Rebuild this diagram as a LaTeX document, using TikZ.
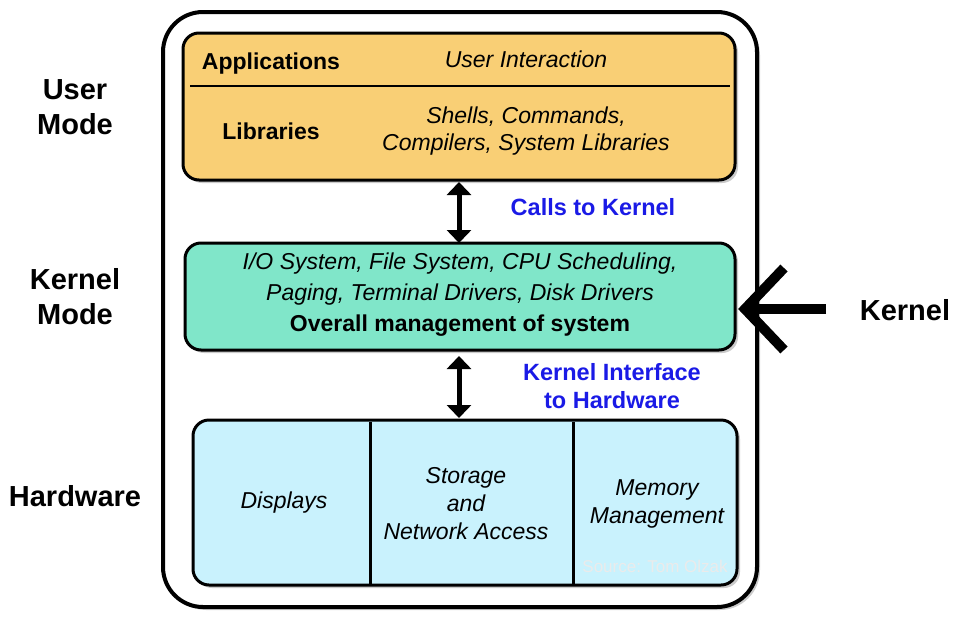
\documentclass[tikz,border=0pt]{standalone}
\usepackage{fontspec}
\setmainfont{Liberation Sans}
\usetikzlibrary{shadows,arrows.meta}
\definecolor{org}{HTML}{F9CF75}
\definecolor{grn}{HTML}{80E6C9}
\definecolor{lbl}{HTML}{C9F2FD}
\definecolor{kb}{HTML}{1A1AE6}
\begin{document}
\begin{tikzpicture}[x=1pt,y=-1pt,
  box/.style={draw=black,line width=3pt,rounded corners=16pt,drop shadow={shadow xshift=3pt,shadow yshift=-3pt,fill=black!40}},
  it/.style={font=\fontsize{23}{27}\selectfont\itshape,align=center},
  bd/.style={font=\fontsize{23}{27}\selectfont\bfseries,align=center},
  side/.style={font=\fontsize{29}{35}\selectfont\bfseries,align=center},
  blu/.style={font=\fontsize{23.5}{28}\selectfont\bfseries,text=kb,align=center},
  dbl/.style={line width=5pt,{Triangle[length=13pt,width=24pt]}-{Triangle[length=13pt,width=24pt]}}]
\useasboundingbox (0,0) rectangle (974,616);
\draw[line width=4pt,rounded corners=40pt,fill=white,drop shadow={shadow xshift=3pt,shadow yshift=-3pt,fill=black!40}] (163,12) rectangle (757,607);
\node[box,fill=org,minimum width=552pt,minimum height=147pt] (apps) at (459,106.5) {};
\draw[line width=1.2pt] (190,86) -- (730,86);
\node[bd] (a1) at (271,64) {Applications};
\node[it] (a2) at (526,59) {User Interaction};
\node[bd] (a3) at (271,131) {Libraries};
\node[it] (a4) at (526,131) {Shells, Commands,\\Compilers, System Libraries};
\node[box,fill=grn,minimum width=550pt,minimum height=107pt] (kern) at (460,296.5) {};
\node[align=center,font=\fontsize{23}{31}\selectfont] (k1) at (460,295) {\itshape I/O System, File System, CPU Scheduling,\\\itshape Paging, Terminal Drivers, Disk Drivers\\\bfseries Overall management of system};
\node[box,fill=lbl,minimum width=544pt,minimum height=165pt] (hw) at (465,502.5) {};
\draw[line width=3pt] (370,422) -- (370,584) (573,422) -- (573,584);
\node[it] (h1) at (284,503) {Displays};
\node[font=\fontsize{23}{28}\selectfont\itshape,align=center] (h2) at (466,504) {Storage\\and\\Network Access};
\node[font=\fontsize{23}{28}\selectfont\itshape,align=center] (h3) at (657,504) {Memory\\Management};
\node[text=black!8,font=\fontsize{17}{20}\selectfont] (src) at (655,566) {Source: Tom Olzak};
\draw[dbl] (459,182) -- (459,243);
\draw[dbl] (459,356) -- (459,418);
\node[blu] (c1) at (593,207) {Calls to Kernel};
\node[blu] (c2) at (612,386) {Kernel Interface\\to Hardware};
\node[side] (u) at (75,107) {User\\Mode};
\node[side] (km) at (75,297) {Kernel\\Mode};
\node[side] (hwl) at (75,496) {Hardware};
\node[font=\fontsize{29}{34}\selectfont\bfseries] (kl) at (905,310) {Kernel};
\coordinate (ks) at (826,309);
\coordinate (ke) at (748,309);
\draw[line width=10pt] (ks) -- (ke);
\draw[line width=10pt,line join=miter] (784,268) -- (745,309) -- (784,350);
\end{tikzpicture}
\end{document}
